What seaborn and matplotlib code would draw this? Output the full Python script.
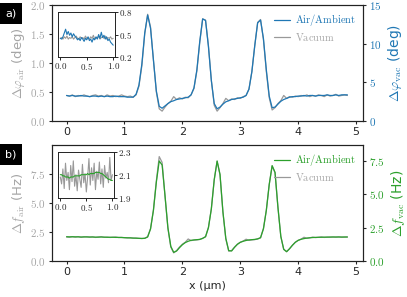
import numpy as np
import matplotlib
matplotlib.use('Agg')
import matplotlib.pyplot as plt
from matplotlib.ticker import FuncFormatter
from matplotlib.patches import Rectangle
from matplotlib.lines import Line2D
import seaborn as sns

# position grid (um), 0.05 um step
x = np.round(np.arange(0, 4.9, 0.05), 2)

# panel a) phase, vacuum (left axis, deg)
phase_vac = [0.44, 0.43, 0.45, 0.42, 0.44, 0.43, 0.45, 0.43, 0.42, 0.44, 0.45, 0.43,
             0.44, 0.42, 0.45, 0.43, 0.44, 0.42, 0.43, 0.45, 0.43, 0.42, 0.43, 0.41,
             0.45, 0.60, 0.95, 1.50, 1.84, 1.62, 1.05, 0.50, 0.21, 0.17,
             0.24, 0.30, 0.34, 0.42, 0.37, 0.40, 0.38, 0.41, 0.40, 0.45,
             0.56, 0.86, 1.35, 1.76, 1.74, 1.30, 0.70, 0.27, 0.17, 0.23,
             0.30, 0.39, 0.35, 0.38, 0.37, 0.40, 0.39, 0.42, 0.44, 0.55,
             0.85, 1.30, 1.70, 1.75, 1.40, 0.85, 0.40, 0.19, 0.23, 0.30,
             0.35, 0.44, 0.39, 0.42, 0.41, 0.43,
             0.42, 0.44, 0.43, 0.45, 0.42, 0.44, 0.43, 0.45, 0.44, 0.42, 0.45, 0.43,
             0.44, 0.46, 0.43, 0.44, 0.45, 0.44]

# panel a) phase, air (right axis, deg)
phase_air = [3.30, 3.22, 3.30, 3.22, 3.22, 3.30, 3.22, 3.22, 3.15, 3.22, 3.22, 3.15,
             3.22, 3.15, 3.22, 3.15, 3.15, 3.22, 3.15, 3.15, 3.15, 3.08, 3.08, 3.08,
             3.45, 4.65, 7.35, 11.4, 13.7, 12.0, 7.90, 3.90, 1.90, 1.65,
             1.95, 2.25, 2.50, 2.62, 2.78, 2.85, 2.92, 3.00, 3.08, 3.38,
             4.28, 6.60, 10.3, 13.2, 13.0, 9.60, 5.25, 2.25, 1.58, 1.80,
             2.18, 2.48, 2.62, 2.78, 2.85, 2.92, 3.00, 3.08, 3.30, 4.12,
             6.38, 9.75, 12.7, 13.05, 10.65, 6.60, 3.22, 1.72, 1.80, 2.18,
             2.55, 2.78, 2.92, 3.08, 3.15, 3.15,
             3.22, 3.22, 3.30, 3.22, 3.30, 3.30, 3.22, 3.30, 3.30, 3.30, 3.38, 3.30,
             3.30, 3.38, 3.30, 3.38, 3.38, 3.38]

# panel b) frequency, vacuum (left axis, Hz)
freq_vac = [2.07, 2.05, 2.09, 2.06, 2.10, 2.04, 2.07, 2.10, 2.05, 2.08, 2.03, 2.07,
            2.09, 2.04, 2.06, 2.03, 2.05, 2.07, 2.02, 2.04, 2.01, 1.99, 2.01, 1.97,
            1.98, 1.95, 1.94, 1.96,
            2.10, 2.80, 4.40, 6.90, 9.00, 8.50, 5.60, 2.80, 1.20, 0.70, 0.90, 1.20,
            1.45, 1.62, 1.90, 1.76, 1.80, 1.82, 1.86, 1.95,
            2.10, 2.90, 4.50, 7.00, 8.60, 7.40, 4.20, 1.90, 0.85, 0.90, 1.20, 1.45,
            1.62, 1.72, 1.88, 1.78, 1.82, 1.84, 1.90, 2.00,
            2.80, 4.40, 6.60, 8.20, 7.60, 4.60, 2.10, 1.00, 0.80, 1.05, 1.35, 1.62,
            1.78, 1.88, 2.05, 1.95, 2.00, 2.06, 2.02, 2.04, 2.08, 2.03, 2.06, 2.04,
            2.07, 2.05, 2.08, 2.04, 2.06, 2.07]

# panel b) frequency, air (right axis, Hz)
freq_air = [1.82, 1.81, 1.82, 1.81, 1.81, 1.80, 1.81, 1.80, 1.80, 1.80, 1.79, 1.79,
            1.80, 1.79, 1.78, 1.78, 1.78, 1.77, 1.77, 1.76, 1.75, 1.74, 1.73, 1.72,
            1.71, 1.70, 1.69, 1.70,
            1.80, 2.40, 3.80, 5.90, 7.50, 7.20, 4.90, 2.50, 1.10, 0.65, 0.75, 1.00,
            1.22, 1.38, 1.48, 1.55, 1.58, 1.60, 1.62, 1.70,
            1.82, 2.50, 3.90, 6.10, 7.50, 6.50, 3.70, 1.70, 0.78, 0.75, 1.02, 1.25,
            1.40, 1.48, 1.54, 1.58, 1.60, 1.62, 1.66, 1.75,
            2.42, 3.80, 5.75, 7.15, 6.65, 4.05, 1.85, 0.88, 0.70, 0.92, 1.18, 1.40,
            1.55, 1.63, 1.68, 1.72, 1.74, 1.76, 1.77, 1.78, 1.78, 1.79, 1.79, 1.80,
            1.80, 1.80, 1.80, 1.80, 1.80, 1.80]

# insets: first micron, 0.025 um step
x_in = np.round(np.arange(0, 1.0001, 0.025), 3)
inset_phase_vac = [0.45, 0.46, 0.44, 0.47, 0.45, 0.48, 0.44, 0.46, 0.45, 0.47,
                   0.44, 0.46, 0.48, 0.45, 0.44, 0.47, 0.45, 0.46, 0.44, 0.48,
                   0.45, 0.46, 0.44, 0.47, 0.45, 0.49, 0.44, 0.46, 0.45, 0.48,
                   0.44, 0.46, 0.47, 0.45, 0.48, 0.44, 0.46, 0.45, 0.47, 0.44, 0.45]
inset_phase_air = [0.45, 0.44, 0.47, 0.52, 0.57, 0.50, 0.54, 0.49, 0.52, 0.47,
                   0.51, 0.48, 0.46, 0.43, 0.45, 0.42, 0.46, 0.44, 0.41, 0.45,
                   0.43, 0.47, 0.42, 0.44, 0.40, 0.45, 0.43, 0.47, 0.44, 0.50,
                   0.45, 0.53, 0.46, 0.49, 0.44, 0.47, 0.42, 0.44, 0.40, 0.38, 0.36]
inset_freq_vac = [2.08, 2.02, 2.15, 1.98, 2.20, 2.05, 2.12, 1.97, 2.18, 2.04,
                  2.22, 2.00, 2.10, 1.96, 2.14, 2.06, 1.99, 2.19, 2.03, 2.11,
                  1.95, 2.08, 2.24, 2.01, 2.16, 2.05, 2.20, 1.97, 2.13, 2.06,
                  2.21, 2.02, 2.15, 1.99, 2.18, 2.07, 2.12, 2.03, 2.25, 2.05, 2.10]
inset_freq_air = [2.10, 2.10, 2.09, 2.09, 2.08, 2.08, 2.08, 2.07, 2.08, 2.08,
                  2.08, 2.09, 2.09, 2.09, 2.09, 2.09, 2.10, 2.10, 2.10, 2.10,
                  2.10, 2.11, 2.10, 2.11, 2.11, 2.11, 2.11, 2.12, 2.12, 2.12,
                  2.12, 2.11, 2.11, 2.10, 2.09, 2.08, 2.07, 2.06, 2.06, 2.05, 2.05]

BLUE = '#1f77b4'
GREEN = '#2ca02c'
GREY = '#999999'
LABGREY = '#a6a6a6'

sns.set_theme(style='ticks')
plt.rcParams['font.family'] = ['DejaVu Sans']
plt.rcParams['mathtext.fontset'] = 'cm'
plt.rcParams['axes.linewidth'] = 0.8
plt.rcParams['axes.edgecolor'] = '#222222'

serif1 = FuncFormatter(lambda v, p: f'${v:.1f}$')
serif0 = FuncFormatter(lambda v, p: f'${v:.0f}$')


def style_main(ax, axr, left_col, right_col, right_fmt):
    ax.set_xlim(-0.25, 5.12)
    ax.set_xticks([0, 1, 2, 3, 4, 5])
    ax.yaxis.set_major_formatter(serif1)
    axr.yaxis.set_major_formatter(right_fmt)
    ax.tick_params(axis='both', labelsize=8, length=2.5, width=0.8, pad=2)
    ax.tick_params(axis='y', labelcolor=left_col)
    axr.tick_params(axis='y', labelsize=8, length=2.5, width=0.8, pad=2,
                    labelcolor=right_col)
    for a in (ax, axr):
        a.set_xlabel('')
        a.grid(False)


def style_inset(ax, ylim, yticks):
    ax.set_xlim(-0.04, 1.03)
    ax.set_ylim(*ylim)
    ax.set_xticks([0.0, 0.5, 1.0])
    ax.set_yticks(yticks)
    ax.yaxis.tick_right()
    ax.xaxis.set_major_formatter(serif1)
    ax.yaxis.set_major_formatter(serif1)
    ax.tick_params(labelsize=6.5, length=2, width=0.7, pad=1)
    ax.set_xlabel('')
    ax.set_ylabel('')
    for s in ax.spines.values():
        s.set_linewidth(0.7)


fig = plt.figure(figsize=(4.07, 2.97), dpi=100)

# ---- panel a)
ax1 = fig.add_axes([0.128, 0.5926, 0.764, 0.3906])
ax1r = ax1.twinx()
sns.lineplot(x=x, y=phase_vac, ax=ax1, color=GREY, lw=0.9)
sns.lineplot(x=x, y=phase_air, ax=ax1r, color=BLUE, lw=0.9)
ax1.set_ylim(0, 2.0)
ax1.set_yticks([0, 0.5, 1.0, 1.5, 2.0])
ax1r.set_ylim(0, 15)
ax1r.set_yticks([0, 5, 10, 15])
style_main(ax1, ax1r, LABGREY, BLUE, serif0)
ax1.set_ylabel(r'$\Delta\varphi_{\mathrm{air}}$ (deg)', color=LABGREY, fontsize=9.5, labelpad=2)
ax1r.set_ylabel(r'$\Delta\varphi_{\mathrm{vac}}$ (deg)', color=BLUE, fontsize=10, labelpad=3)
ax1r.legend(handles=[Line2D([], [], color=BLUE, lw=0.9),
                     Line2D([], [], color=GREY, lw=0.9)],
            labels=[r'$\mathrm{Air/Ambient}$', r'$\mathrm{Vacuum}$'],
            loc='upper right', frameon=False, fontsize=7.5, handlelength=1.5,
            handletextpad=0.5, labelspacing=0.25, borderaxespad=0.3,
            labelcolor=[BLUE, LABGREY])

ins1 = fig.add_axes([0.143, 0.807, 0.139, 0.1535])
sns.lineplot(x=x_in, y=inset_phase_vac, ax=ins1, color=GREY, lw=0.8)
sns.lineplot(x=x_in, y=inset_phase_air, ax=ins1, color=BLUE, lw=0.8)
style_inset(ins1, (0.2, 0.8), [0.2, 0.5, 0.8])

# ---- panel b)
ax2 = fig.add_axes([0.128, 0.1212, 0.764, 0.3906])
ax2r = ax2.twinx()
sns.lineplot(x=x, y=freq_vac, ax=ax2, color=GREY, lw=0.9)
sns.lineplot(x=x, y=freq_air, ax=ax2r, color=GREEN, lw=0.9)
ax2.set_ylim(0, 10)
ax2.set_yticks([0, 2.5, 5.0, 7.5])
ax2r.set_ylim(0, 8.7)
ax2r.set_yticks([0, 2.5, 5.0, 7.5])
style_main(ax2, ax2r, LABGREY, GREEN, serif1)
ax2.set_ylabel(r'$\Delta f_{\mathrm{air}}$ (Hz)', color=LABGREY, fontsize=9.5, labelpad=2)
ax2r.set_ylabel(r'$\Delta f_{\mathrm{vac}}$ (Hz)', color=GREEN, fontsize=10, labelpad=3)
ax2.set_xlabel('x (µm)', fontsize=8, labelpad=3)
ax2r.legend(handles=[Line2D([], [], color=GREEN, lw=0.9),
                     Line2D([], [], color=GREY, lw=0.9)],
            labels=[r'$\mathrm{Air/Ambient}$', r'$\mathrm{Vacuum}$'],
            loc='upper right', frameon=False, fontsize=7.5, handlelength=1.5,
            handletextpad=0.5, labelspacing=0.25, borderaxespad=0.3,
            labelcolor=[GREEN, LABGREY])

ins2 = fig.add_axes([0.143, 0.3343, 0.137, 0.155])
sns.lineplot(x=x_in, y=inset_freq_vac, ax=ins2, color=GREY, lw=0.8)
sns.lineplot(x=x_in, y=inset_freq_air, ax=ins2, color=GREEN, lw=0.8)
style_inset(ins2, (1.9, 2.3), [1.9, 2.1, 2.3])

# panel tags
for ytop, tag in [(3, 'a)'), (144, 'b)')]:
    fig.patches.append(Rectangle((0, 1 - (ytop + 21) / 297), 22 / 407, 21 / 297,
                                 transform=fig.transFigure, facecolor='black',
                                 edgecolor='none'))
    fig.text(11 / 407, 1 - (ytop + 10.5) / 297, tag, color='white', fontsize=8,
             ha='center', va='center')

fig.savefig('out.png', dpi=100)
